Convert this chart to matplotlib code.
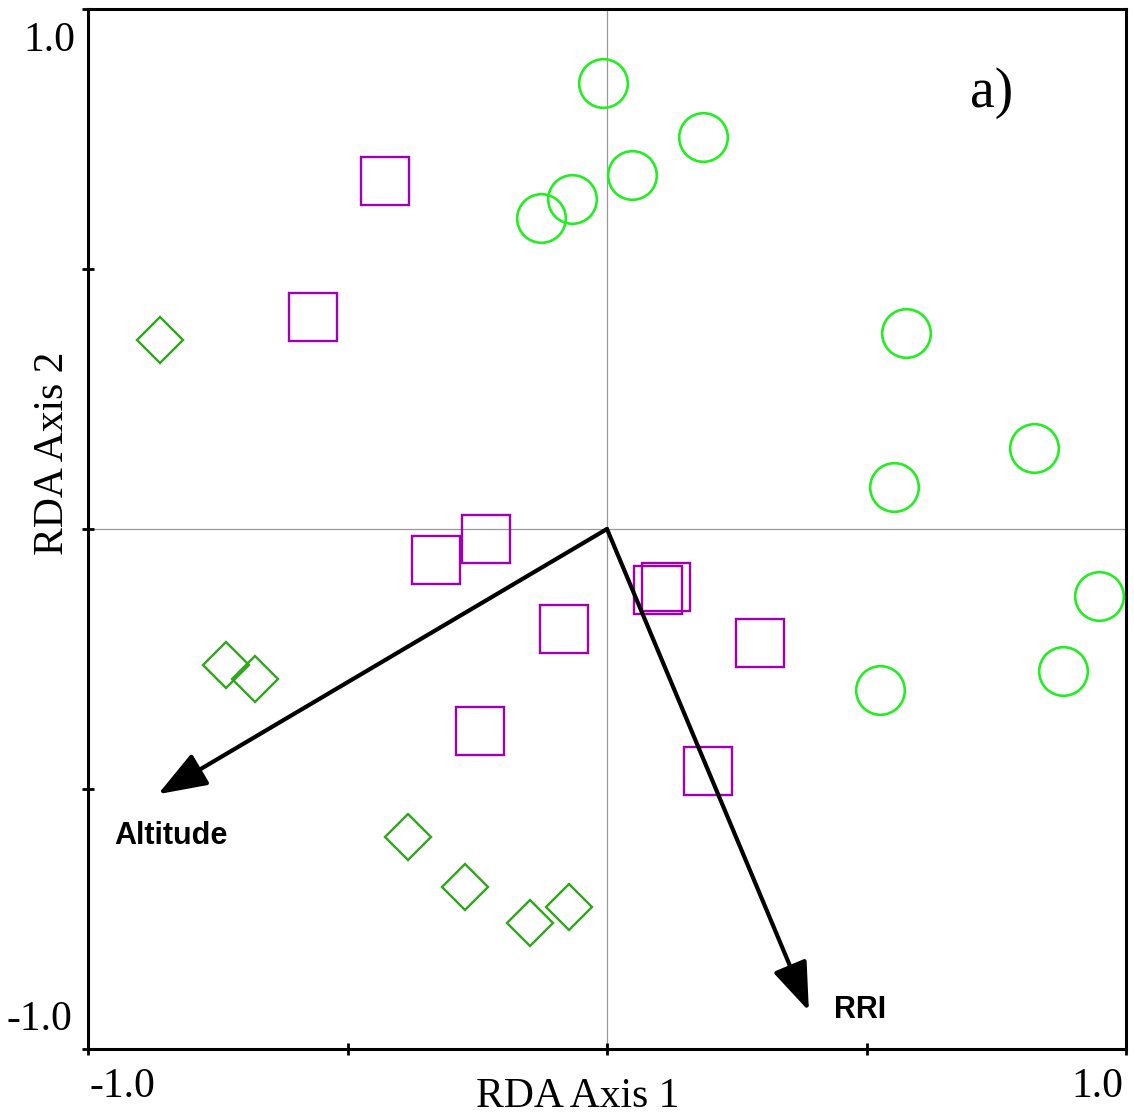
import matplotlib
matplotlib.use("Agg")
import matplotlib.pyplot as plt
from matplotlib.transforms import blended_transform_factory

# ---- data ----
circle_x = [-0.008, 0.185, 0.048, -0.067, -0.127, 0.576, 0.823, 0.553, 0.948, 0.879, 0.526]
circle_y = [0.858, 0.754, 0.681, 0.635, 0.598, 0.377, 0.156, 0.081, -0.129, -0.273, -0.310]

square_x = [-0.428, -0.566, -0.233, -0.329, 0.114, 0.098, -0.083, 0.295, -0.245, 0.195]
square_y = [0.669, 0.408, -0.019, -0.060, -0.112, -0.117, -0.192, -0.219, -0.388, -0.465]

diamond_x = [-0.861, -0.734, -0.678, -0.383, -0.274, -0.073, -0.148]
diamond_y = [0.363, -0.262, -0.288, -0.592, -0.688, -0.727, -0.758]

arrow_names = ["Altitude", "RRI"]
arrow_x = [-0.865, 0.389]
arrow_y = [-0.510, -0.927]
arrow_label_x = [-0.84, 0.487]
arrow_label_y = [-0.591, -0.925]

tick_values = [-1.0, -0.5, 0.0, 0.5, 1.0]
tick_labels = ["-1.0", "1.0"]

# ---- figure ----
fig = plt.figure(figsize=(11.34, 11.2), dpi=100)
ax = fig.add_axes([88/1134, 1 - 1049/1120, (1126-88)/1134, (1049-9)/1120])
ax.set_xlim(-1, 1)
ax.set_ylim(-1, 1)

serif = "Liberation Serif"
sans = "Liberation Sans"

ax.axvline(0, color="#999999", lw=0.9, zorder=1)
ax.axhline(0, color="#999999", lw=0.9, zorder=1)

ax.plot(circle_x, circle_y, linestyle="none", marker="o", markersize=35,
        markerfacecolor="none", markeredgecolor="#22ee22", markeredgewidth=1.9, zorder=3)
ax.plot(square_x, square_y, linestyle="none", marker="s", markersize=34,
        markerfacecolor="none", markeredgecolor="#a000b4", markeredgewidth=1.7, zorder=3)
ax.plot(diamond_x, diamond_y, linestyle="none", marker="D", markersize=23.5,
        markerfacecolor="none", markeredgecolor="#2ea51a", markeredgewidth=1.7, zorder=3)

for name, x, y, lx, ly in zip(arrow_names, arrow_x, arrow_y, arrow_label_x, arrow_label_y):
    ax.annotate("", xy=(x, y), xytext=(0, 0),
                arrowprops=dict(arrowstyle="-|>,head_length=1.5,head_width=0.55",
                                mutation_scale=20, lw=3.0, color="black",
                                shrinkA=0, shrinkB=0),
                zorder=4)
    ax.text(lx, ly, name, fontsize=22, fontweight="bold", family=sans,
            ha="center", va="center", zorder=5)

ax.text(0.742, 0.838, "a)", fontsize=40, family=serif, ha="center", va="center")

for s in ax.spines.values():
    s.set_linewidth(2.2)

ax.set_xticks(tick_values)
ax.set_yticks(tick_values)
ax.set_xticklabels([])
ax.set_yticklabels([])
ax.tick_params(direction="inout", length=8, width=2)

# endpoint tick labels, shifted inward like the original
ty = blended_transform_factory(ax.transAxes, ax.transData)
tx = blended_transform_factory(ax.transData, ax.transAxes)
ax.annotate(tick_labels[1], xy=(0, 1.0), xycoords=ty, xytext=(-9, -23),
            textcoords="offset points", ha="right", va="center",
            fontsize=30, family=serif, annotation_clip=False)
ax.annotate(tick_labels[0], xy=(0, -1.0), xycoords=ty, xytext=(-11, 21),
            textcoords="offset points", ha="right", va="center",
            fontsize=30, family=serif, annotation_clip=False)
ax.annotate(tick_labels[0], xy=(-1.0, 0), xycoords=tx, xytext=(1, -27),
            textcoords="offset points", ha="left", va="center",
            fontsize=30, family=serif, annotation_clip=False)
ax.annotate(tick_labels[1], xy=(1.0, 0), xycoords=tx, xytext=(-2, -27),
            textcoords="offset points", ha="right", va="center",
            fontsize=30, family=serif, annotation_clip=False)

fig.text(578/1134, 1 - 1097/1120, "RDA Axis 1", fontsize=30, family=serif,
         ha="center", va="center")
fig.text(53/1134, 1 - 453/1120, "RDA Axis 2", fontsize=30, family=serif,
         ha="center", va="center", rotation=90)

fig.savefig("out.png", dpi=100)
